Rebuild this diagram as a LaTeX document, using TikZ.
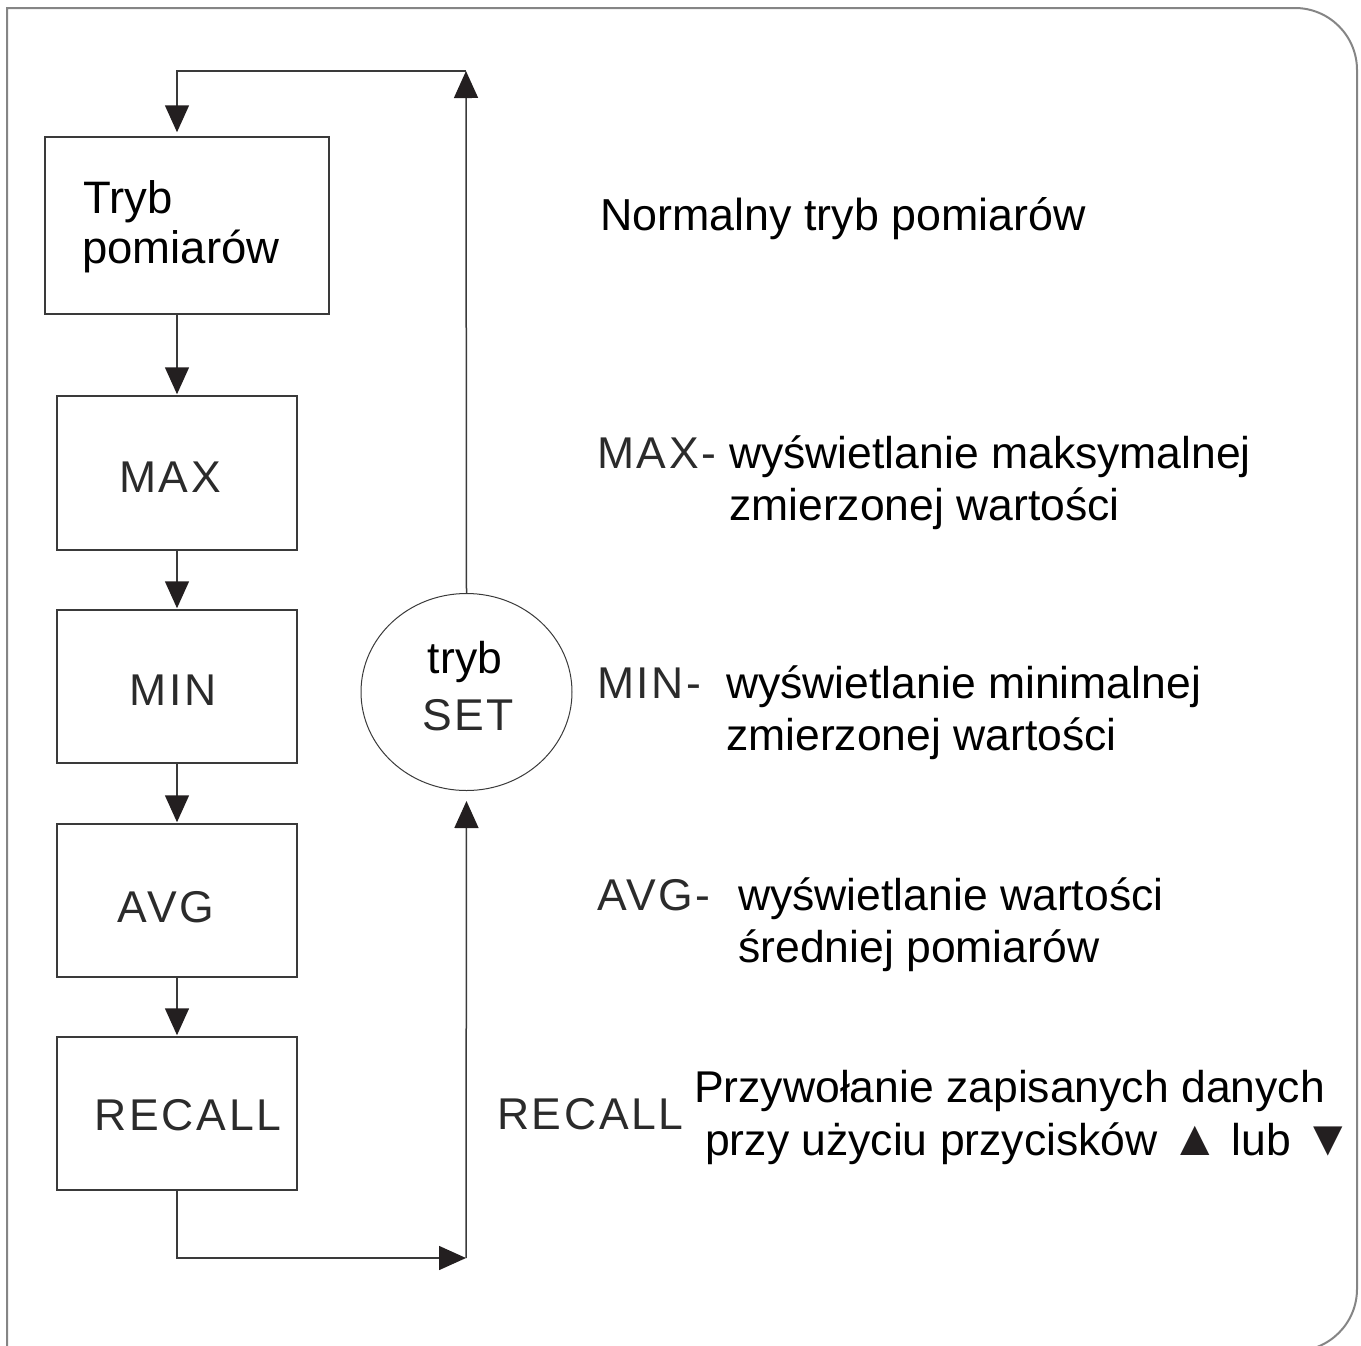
\documentclass[tikz,border=0pt]{standalone}
\usepackage{fontspec}
\setmainfont{Liberation Sans}
\newfontfamily\lblfont[LetterSpace=6]{Liberation Sans}
\usetikzlibrary{arrows.meta,shapes.geometric}
\definecolor{ink}{HTML}{231F20}
\definecolor{lineclr}{HTML}{3A3A3A}
\definecolor{frameclr}{HTML}{858585}
\definecolor{lblclr}{HTML}{2B2B2B}
\tikzset{
  box/.style={draw=lineclr, line width=1.5pt, rectangle, inner sep=0pt},
  conn/.style={draw=lineclr, line width=1.5pt},
  arr/.style={conn, -{Triangle[length=27pt,width=24pt,fill=ink,color=ink]}},
  desc/.style={anchor=base west, inner sep=0pt, text=black, font=\fontsize{44.5}{51}\selectfont},
  lbl/.style={anchor=base west, inner sep=0pt, text=lblclr, font=\lblfont\fontsize{44.5}{51}\selectfont},
  lblc/.style={anchor=base, inner sep=0pt, text=lblclr, font=\lblfont\fontsize{44.5}{51}\selectfont},
}
\newcommand{\bigtri}[1]{{\color{ink}\fontsize{50}{51}\selectfont #1}}
\begin{document}
\begin{tikzpicture}[x=1pt,y=-1pt]
\useasboundingbox (0,0) rectangle (1361,1345);
\begin{scope}
\clip (0,0) rectangle (1361,1345);
\draw[frameclr, line width=2pt] (7,1360) -- (7,8) -- (1295,8)
  arc[start angle=90, end angle=0, radius=62pt] -- (1357,1289)
  arc[start angle=0, end angle=-90, radius=62pt] -- (7,1351);
\end{scope}

% boxes
\node[box, minimum width=284pt, minimum height=177pt] (tryb) at (187,225.5) {};
\node[box, minimum width=240pt, minimum height=154pt] (max) at (177,473) {};
\node[box, minimum width=240pt, minimum height=153pt] (min) at (177,686.5) {};
\node[box, minimum width=240pt, minimum height=153pt] (avg) at (177,900.5) {};
\node[box, minimum width=240pt, minimum height=153pt] (recall) at (177,1113.5) {};
\node[draw=lineclr, line width=1pt, ellipse, inner sep=0pt, minimum width=211pt, minimum height=197pt] (set) at (466.5,692) {};

% box texts
\node[desc, font=\fontsize{45.5}{52}\selectfont] (t1) at (83,213) {Tryb};
\node[desc, font=\fontsize{45.5}{52}\selectfont] (t2) at (82,263) {pomiarów};
\node[lblc] (tmax) at (170,492) {MAX};
\node[lblc] (tmin) at (173,705) {MIN};
\node[lblc] (tavg) at (166,922) {AVG};
\node[lblc] (trec) at (188,1130) {RECALL};
\node[anchor=base, inner sep=0pt, font=\fontsize{44.5}{51}\selectfont] (sett1) at (465,673) {tryb};
\node[lblc] (sett2) at (468,730) {SET};

% coordinates for connectors
\coordinate (tl) at (177,71);
\coordinate (tr) at (466,71);
\coordinate (bl) at (177,1258);
\coordinate (br) at (466,1258);

% connectors
\draw[arr] (set.north) -- (tr);
\draw[arr, shorten >=4pt] (tr) -- (tl) -- (tl |- tryb.north);
\draw[arr, shorten >=1pt] (tl |- tryb.south) -- (max.north);
\draw[arr, shorten >=1pt] (max.south) -- (min.north);
\draw[arr, shorten >=1pt] (min.south) -- (avg.north);
\draw[arr, shorten >=1pt] (avg.south) -- (recall.north);
\draw[arr] (recall.south) -- (bl) -- (br);
\draw[arr, shorten >=10pt] (br) -- (set.south);

% right side descriptions
\node[desc, font=\fontsize{44.8}{51}\selectfont] (n1) at (600,230) {Normalny tryb pomiarów};

\node[lbl] (lmax) at (597,468) {MAX-};
\node[desc] (dmax1) at (729,468) {wyświetlanie maksymalnej};
\node[desc] (dmax2) at (729,520) {zmierzonej wartości};

\node[lbl] (lmin) at (597,698) {MIN-};
\node[desc] (dmin1) at (726,698) {wyświetlanie minimalnej};
\node[desc] (dmin2) at (726,750) {zmierzonej wartości};

\node[lbl] (lavg) at (597,910) {AVG-};
\node[desc] (davg1) at (738,910) {wyświetlanie wartości};
\node[desc] (davg2) at (738,962) {średniej pomiarów};

\node[lbl] (lrec) at (497,1129) {RECALL};
\node[desc] (drec1) at (694,1102) {Przywołanie zapisanych danych};
\node[desc] (drec2) at (705,1155) {przy użyciu przycisków \bigtri{▲} lub \bigtri{▼}};
\end{tikzpicture}
\end{document}
